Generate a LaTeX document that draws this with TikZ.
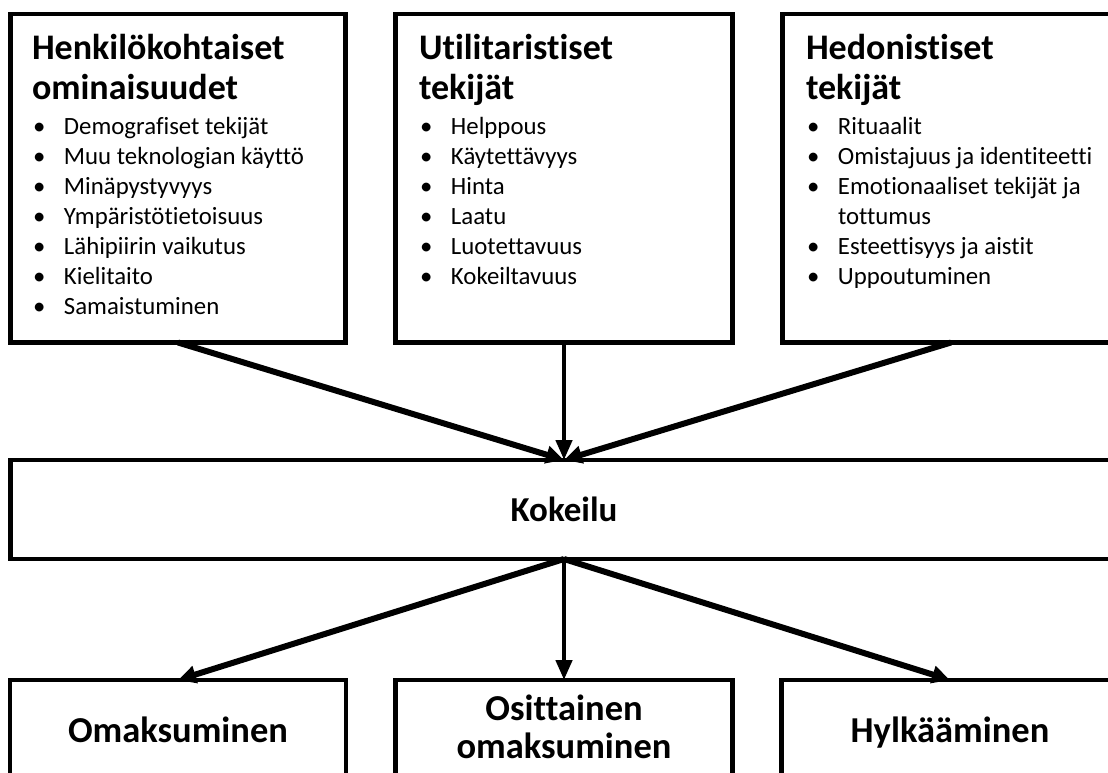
\documentclass[tikz,border=0pt]{standalone}
\usepackage{fontspec}
\setmainfont{Carlito}[Ligatures={NoCommon}]
\usetikzlibrary{arrows.meta}
\newcommand{\ttl}{\fontsize{36}{40}\selectfont\bfseries}
\newcommand{\ktl}{\fontsize{35}{40}\selectfont\bfseries}
\newcommand{\btl}{\fontsize{36.5}{38}\selectfont\bfseries}
\newcommand{\lst}{\fontsize{24.8}{30}\selectfont}
\newcommand{\itm}[1]{\hbox{\makebox[31pt][l]{\textbullet}#1}}
\newcommand{\cnt}[1]{\hbox{\hspace*{31pt}#1}}
\begin{document}
\begin{tikzpicture}[x=1pt,y=-1pt,
  box/.style={draw=black,line width=4.3pt,fill=white,inner sep=0pt,outer sep=0pt,rectangle},
  txt/.style={inner sep=0pt,outer sep=0pt,anchor=base west},
  thick arrow/.style={line width=6pt,-{Triangle[length=18pt,width=17pt]}},
  thin arrow/.style={line width=4.5pt,-{Triangle[length=20pt,width=16pt]}}]
\clip (0,0) rectangle (1108,773);
\useasboundingbox (0,0) rectangle (1108,773);
\fill[white] (0,0) rectangle (1108,773);
% top boxes
\node[box,minimum width=335pt,minimum height=328.5pt] (p) at (178,178.25) {};
\node[box,minimum width=337pt,minimum height=328.5pt] (u) at (564,178.25) {};
\node[box,minimum width=337pt,minimum height=328.5pt] (h) at (951,178.25) {};
% middle
\node[box,minimum width=1107pt,minimum height=99pt] (k) at (564,509.5) {};
% bottom
\node[box,minimum width=336pt,minimum height=120pt] (o) at (178,740) {};
\node[box,minimum width=337pt,minimum height=120pt] (oo) at (564,740) {};
\node[box,minimum width=337pt,minimum height=120pt] (hy) at (950,740) {};
% texts top
\node[txt] (pt) at (32,60) {\ttl\vtop{\hbox{Henkilökohtaiset}\hbox{ominaisuudet}}};
\node[txt] (pl) at (33,135) {\lst\vtop{\itm{Demografiset tekijät}\itm{Muu teknologian käyttö}\itm{Minäpystyvyys}\itm{Ympäristötietoisuus}\itm{Lähipiirin vaikutus}\itm{Kielitaito}\itm{Samaistuminen}}};
\node[txt] (ut) at (419,60) {\ttl\vtop{\hbox{Utilitaristiset}\hbox{tekijät}}};
\node[txt] (ul) at (420,135) {\lst\vtop{\itm{Helppous}\itm{Käytettävyys}\itm{Hinta}\itm{Laatu}\itm{Luotettavuus}\itm{Kokeiltavuus}}};
\node[txt] (ht) at (806,60) {\ttl\vtop{\hbox{Hedonistiset}\hbox{tekijät}}};
\node[txt] (hl) at (807,135) {\lst\vtop{\itm{Rituaalit}\itm{Omistajuus ja identiteetti}\itm{Emotionaaliset tekijät ja}\cnt{tottumus}\itm{Esteettisyys ja aistit}\itm{Uppoutuminen}}};
% middle text
\node[inner sep=0pt,font=\ktl] (kt) at (564,509.5) {Kokeilu};
% bottom texts
\node[inner sep=0pt,anchor=base,font=\btl] (ot) at (178,742) {Omaksuminen};
\node[inner sep=0pt,anchor=base,font=\btl] (oot) at (564,720) {\vtop{\halign{\hfil#\hfil\cr Osittainen\cr omaksuminen\cr}}};
\node[inner sep=0pt,anchor=base,font=\btl] (hyt) at (950,742) {Hylkääminen};
% arrows
\draw[thick arrow] (p.south) -- (k.north);
\draw[thin arrow] (u.south) -- (k.north);
\draw[thick arrow] (h.south) -- (k.north);
\draw[thick arrow] (k.south) -- (o.north);
\draw[thin arrow] (k.south) -- (oo.north);
\draw[thick arrow] (k.south) -- (hy.north);
\end{tikzpicture}
\end{document}
